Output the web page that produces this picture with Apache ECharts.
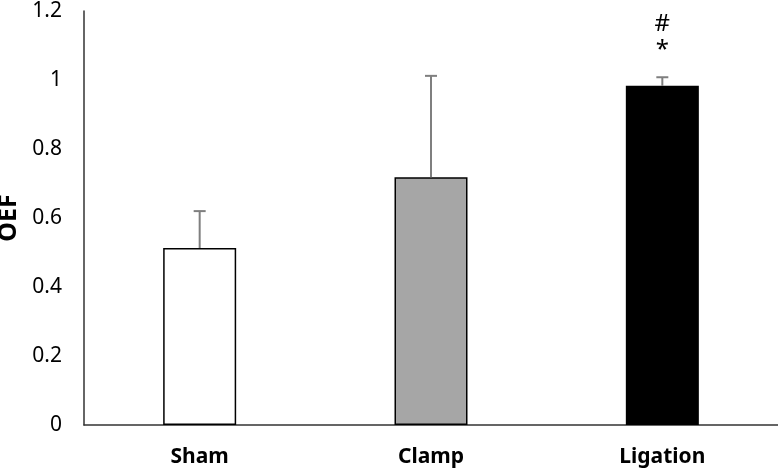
<!DOCTYPE html>
<html>
<head>
<meta charset="utf-8">
<script src="https://cdn.jsdelivr.net/npm/echarts@6/dist/echarts.min.js"></script>
<style>
  html, body { margin: 0; padding: 0; background: #fff; }
  #chart { width: 778px; height: 471px; }
</style>
</head>
<body>
<div id="chart"></div>
<script>
// groups and OEF values
const groups = ['Sham', 'Clamp', 'Ligation'];
const oefMean = [0.513, 0.718, 0.983];
const oefErrTop = [0.620, 1.012, 1.008];
const barColors = ['#ffffff', '#a6a6a6', '#000000'];
const marks = ['', '', '#\n*'];

const font = '"Noto Sans", "Open Sans", sans-serif';

const chart = echarts.init(document.getElementById('chart'));

chart.setOption({
  animation: false,
  grid: { left: 84, right: 0, top: 11, bottom: 46, outerBoundsMode: 'none', containLabel: false },
  xAxis: {
    type: 'category',
    data: groups,
    axisLine: { lineStyle: { color: '#333', width: 1.5 } },
    axisTick: { show: false },
    axisLabel: { color: '#000', fontSize: 21, fontWeight: 'bold', fontFamily: font, margin: 22 }
  },
  yAxis: {
    type: 'value',
    min: 0,
    max: 1.2,
    interval: 0.2,
    name: 'OEF',
    nameLocation: 'middle',
    nameGap: 57,
    nameRotate: 90,
    nameTextStyle: { color: '#000', fontSize: 25, fontWeight: 'bold', fontFamily: font },
    splitLine: { show: false },
    axisLine: { show: true, lineStyle: { color: '#333', width: 1.5 } },
    axisTick: { show: false },
    axisLabel: {
      color: '#000', fontSize: 21, fontFamily: font, margin: 22,
      formatter: v => String(Math.round(v * 10) / 10)
    }
  },
  series: [
    {
      type: 'bar',
      barWidth: 73,
      data: oefMean.map((v, i) => ({
        value: v,
        itemStyle: { color: barColors[i], borderColor: '#000', borderWidth: 1.5 }
      })),
      z: 2
    },
    {
      type: 'custom',
      z: 3,
      data: groups.map((g, i) => [i, oefMean[i], oefErrTop[i]]),
      renderItem: (params, api) => {
        const i = api.value(0);
        const base = api.coord([i, api.value(1)]);
        const top = api.coord([i, api.value(2)]);
        const children = [
          { type: 'line', shape: { x1: base[0], y1: base[1], x2: top[0], y2: top[1] },
            style: { stroke: '#7f7f7f', lineWidth: 2 } },
          { type: 'line', shape: { x1: top[0] - 6, y1: top[1], x2: top[0] + 6, y2: top[1] },
            style: { stroke: '#7f7f7f', lineWidth: 2 } }
        ];
        if (marks[i]) {
          children.push({
            type: 'text',
            style: {
              x: top[0], y: top[1] - 14, text: marks[i],
              textAlign: 'center', textVerticalAlign: 'bottom',
              fill: '#000', font: '24px ' + font, lineHeight: 26
            }
          });
        }
        return { type: 'group', children };
      }
    }
  ]
});
</script>
</body>
</html>
